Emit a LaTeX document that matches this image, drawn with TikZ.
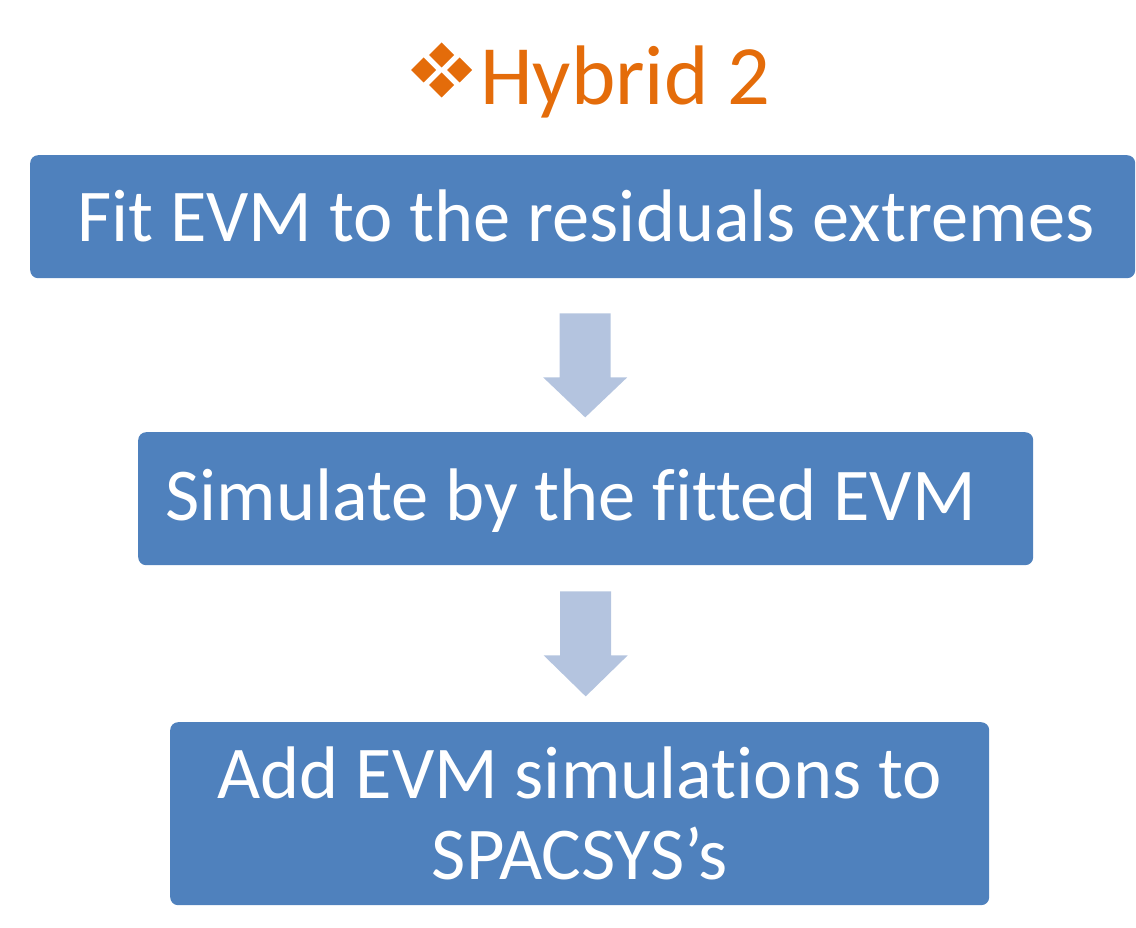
\documentclass[tikz,border=0pt]{standalone}
\usepackage{fontspec}
\setmainfont{Carlito}[Ligatures=NoCommon]
\usetikzlibrary{calc}
\definecolor{boxblue}{HTML}{4F81BD}
\definecolor{arrowblue}{HTML}{B4C4DF}
\definecolor{titleorange}{HTML}{E46C0A}
\tikzset{
  stepbox/.style={fill=boxblue, draw=none, rounded corners=8pt, inner sep=0pt, anchor=north west},
  boxtext/.style={text=white, font=\fontsize{74.5}{82}\selectfont, inner sep=0pt, anchor=base},
  blockarrow/.style={fill=arrowblue, draw=none},
  gem/.style={fill=titleorange, draw=none}
}
\newcommand{\downarrowblock}[3]{% top coord, head-base offset, tip offset
  \fill[blockarrow] ($(#1)+(-25.5,0)$) -- ($(#1)+(25.5,0)$) -- ($(#1)+(25.5,#2)$) -- ($(#1)+(42,#2)$)
    -- ($(#1)+(0,#3)$) -- ($(#1)+(-42,#2)$) -- ($(#1)+(-25.5,#2)$) -- cycle;}
\begin{document}
\begin{tikzpicture}[x=1pt,y=-1pt]
\useasboundingbox (0,0) rectangle (1136,928);
% title
\foreach \dx/\dy in {0/-15, -18/0, 18/0, 0/15}{
  \fill[gem] ($(441.5,70)+(\dx,\dy)$) ++(0,-12.5) -- ++(12.5,12.5) -- ++(-12.5,12.5) -- ++(-12.5,-12.5) -- cycle;
}
\node[text=titleorange, font=\fontsize{84.5}{90}\selectfont, inner sep=0pt, anchor=base west] (title) at (480,105) {Hybrid 2};
% boxes
\node[stepbox, minimum width=1105pt, minimum height=123pt] (b1) at (30,155) {};
\node[stepbox, minimum width=895pt, minimum height=133pt] (b2) at (138,432) {};
\node[stepbox, minimum width=819pt, minimum height=183pt] (b3) at (170,722) {};
\node[boxtext] (t1) at ($(b1.north)+(3,87)$) {Fit EVM to the residuals extremes};
\node[boxtext] (t2) at ($(b2.north)+(-15,88)$) {Simulate by the fitted EVM};
\node[boxtext] (t3a) at ($(b3.north)+(0,76)$) {Add EVM simulations to};
\node[boxtext] (t3b) at ($(b3.north)+(0,157)$) {SPACSYS’s};
% arrows
\coordinate (a1) at ($(b1.south)+(2.5,35)$);
\coordinate (a2) at ($(b2.south)+(0,26)$);
\downarrowblock{a1}{64}{104}
\downarrowblock{a2}{64}{105}
\end{tikzpicture}
\end{document}
